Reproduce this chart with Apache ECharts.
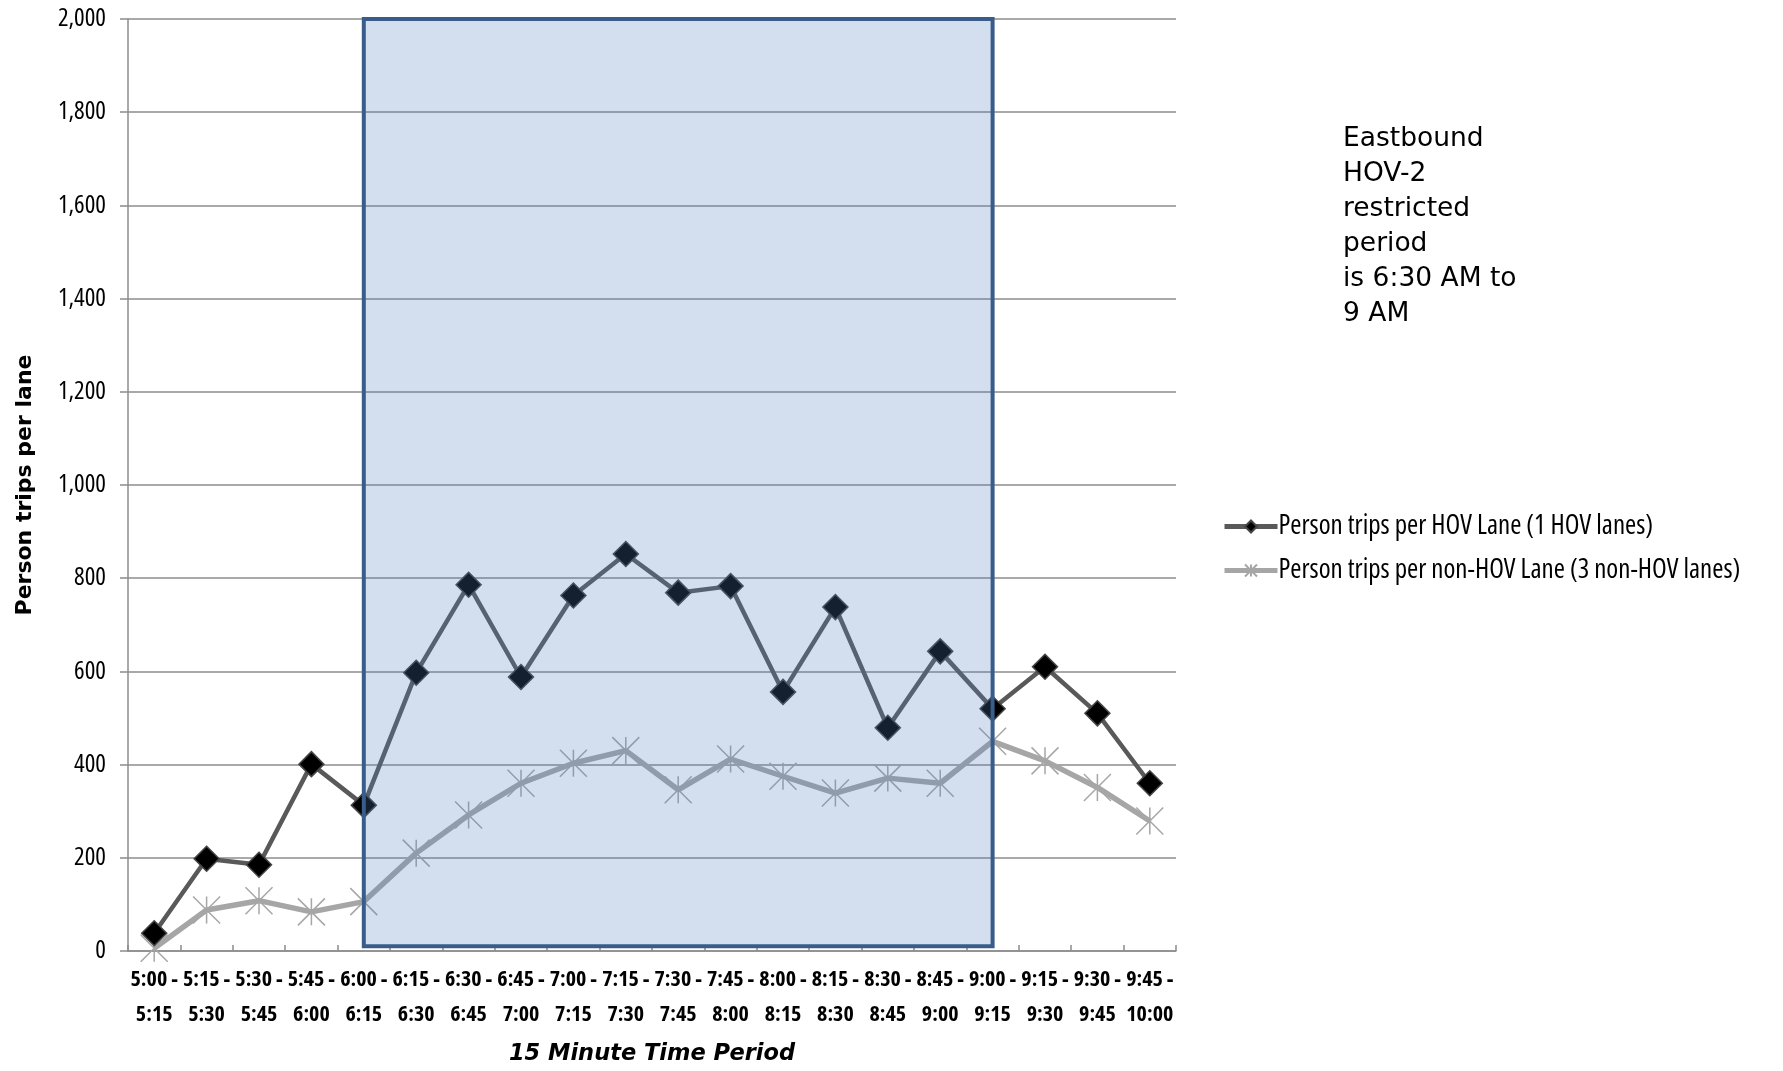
<!DOCTYPE html>
<html>
<head>
<meta charset="utf-8">
<script src="https://cdn.jsdelivr.net/npm/echarts@6/dist/echarts.min.js"></script>
<style>
  html, body { margin: 0; padding: 0; background: #ffffff; }
  #chart { width: 1783px; height: 1071px; }
</style>
</head>
<body>
<div id="chart"></div>
<script>
// 15-minute periods, 5:00 to 10:00
const periods = [
  '5:00 -\n5:15', '5:15 -\n5:30', '5:30 -\n5:45', '5:45 -\n6:00', '6:00 -\n6:15',
  '6:15 -\n6:30', '6:30 -\n6:45', '6:45 -\n7:00', '7:00 -\n7:15', '7:15 -\n7:30',
  '7:30 -\n7:45', '7:45 -\n8:00', '8:00 -\n8:15', '8:15 -\n8:30', '8:30 -\n8:45',
  '8:45 -\n9:00', '9:00 -\n9:15', '9:15 -\n9:30', '9:30 -\n9:45', '9:45 -\n10:00'
];

// Person trips per lane
const hovTrips = [38, 198, 185, 401, 313, 597, 786, 588, 763, 852, 769, 783, 556, 738, 479, 643, 520, 610, 510, 360];
const nonHovTrips = [6, 88, 108, 84, 106, 210, 292, 360, 403, 430, 346, 412, 375, 339, 371, 360, 450, 408, 351, 279];

const hovName = 'Person trips per HOV Lane (1 HOV lanes)';
const nonHovName = 'Person trips per non-HOV Lane (3 non-HOV lanes)';

// Highlighted window: from the 6:00 period to the 9:00 period
const windowStart = 4;
const windowEnd = 16;
const windowBottom = 10;
const windowTop = 2013;

const noteLines = ['Eastbound', 'HOV-2', 'restricted', 'period', 'is 6:30 AM to', '9 AM'];

// condensed face of the variable Open Sans, selected through the font shorthand
const condensed = "'Open Sans', 'Roboto Condensed', sans-serif";
const wide = "'DejaVu Sans', sans-serif";

const hovLine = '#595959';
const nonHovLine = '#a6a6a6';

// asterisk marker: vertical stroke plus an X
const starPath = 'path://M10,0L10,20M0,0L20,20M0,20L20,0';

const chart = echarts.init(document.getElementById('chart'), null, { renderer: 'canvas' });

chart.setOption({
  animation: false,
  backgroundColor: '#ffffff',
  grid: { left: 128, right: 607, top: 19, bottom: 118, containLabel: false },
  legend: {
    orient: 'vertical',
    left: 1217,
    top: 508,
    itemWidth: 53,
    itemHeight: 15,
    itemGap: 17,
    data: [
      { name: hovName, lineStyle: { width: 5, color: hovLine } },
      { name: nonHovName, lineStyle: { width: 5, color: nonHovLine } }
    ],
    textStyle: { fontFamily: condensed, fontWeight: 'normal condensed', fontSize: 27, color: '#000000', padding: [0, 0, 0, -4] }
  },
  xAxis: {
    type: 'category',
    data: periods,
    boundaryGap: true,
    name: '15 Minute Time Period',
    nameLocation: 'middle',
    nameGap: 92,
    nameTextStyle: { fontFamily: wide, fontSize: 22.5, fontWeight: 'bold', fontStyle: 'italic', color: '#000' },
    axisLine: { lineStyle: { color: '#8c8c8c', width: 1.5 } },
    axisTick: { show: true, inside: true, length: 6, interval: 0, lineStyle: { color: '#8c8c8c', width: 1.5 } },
    axisLabel: {
      interval: 0,
      margin: 11,
      lineHeight: 35,
      fontFamily: condensed,
      fontSize: 22,
      fontWeight: 'bold condensed',
      color: '#000'
    },
    splitLine: { show: false }
  },
  yAxis: {
    type: 'value',
    min: 0,
    max: 2000,
    interval: 200,
    name: 'Person trips per lane',
    nameLocation: 'middle',
    nameGap: 92,
    nameTextStyle: { fontFamily: wide, fontSize: 22, fontWeight: 'bold', color: '#000' },
    axisLine: { show: true, lineStyle: { color: '#8c8c8c', width: 1.5 } },
    axisTick: { show: true, length: 8, lineStyle: { color: '#8c8c8c', width: 1.5 } },
    axisLabel: {
      margin: 22,
      fontFamily: condensed,
      fontSize: 25,
      fontWeight: '500 condensed',
      color: '#000',
      formatter: v => v.toLocaleString('en-US')
    },
    splitLine: { show: true, lineStyle: { color: '#8c8c8c', width: 1.5 } }
  },
  graphic: [{
    type: 'text',
    left: 1343,
    top: 122,
    style: {
      text: noteLines.join('\n'),
      fontFamily: wide,
      fontSize: 26.5,
      lineHeight: 35,
      fill: '#000'
    }
  }],
  series: [
    {
      name: hovName,
      type: 'line',
      data: hovTrips,
      z: 3,
      symbol: 'diamond',
      symbolSize: 25,
      lineStyle: { color: hovLine, width: 4.5 },
      itemStyle: { color: '#000000', borderColor: '#454545', borderWidth: 1.5 }
    },
    {
      name: nonHovName,
      type: 'line',
      data: nonHovTrips,
      z: 2,
      symbol: starPath,
      symbolSize: 27,
      lineStyle: { color: nonHovLine, width: 5.5 },
      itemStyle: { color: nonHovLine, borderColor: nonHovLine, borderWidth: 1.5 }
    },
    {
      name: 'window',
      type: 'line',
      data: [],
      clip: false,
      silent: true,
      markArea: {
        z: 10,
        silent: true,
        itemStyle: { color: 'rgba(79,129,189,0.25)', borderColor: '#385d8a', borderWidth: 4 },
        data: [[
          { coord: [windowStart, windowBottom] },
          { coord: [windowEnd, windowTop] }
        ]]
      }
    }
  ]
});
</script>
</body>
</html>
